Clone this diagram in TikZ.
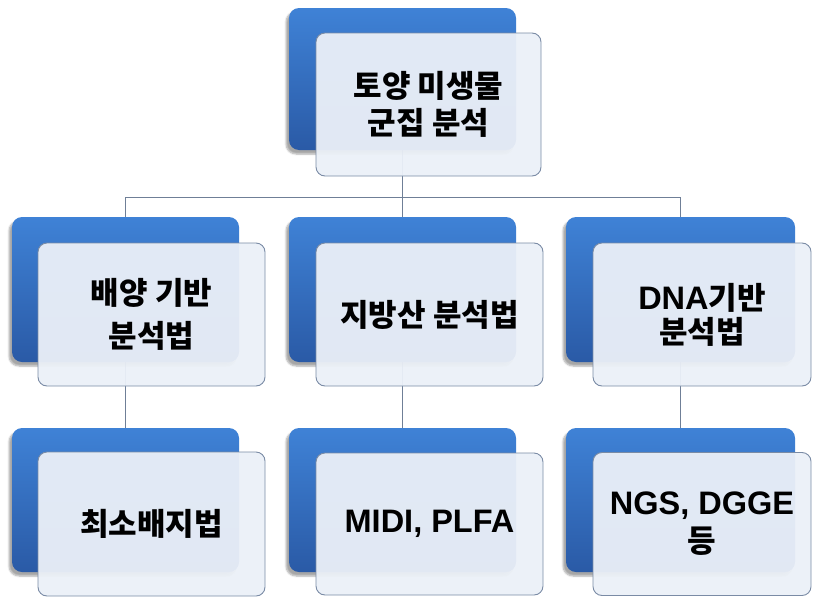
\documentclass[tikz,border=0pt]{standalone}
\usepackage{fontspec}
\newfontfamily\kr{Noto Sans CJK KR Black}
\newfontfamily\latfont{Liberation Sans}[BoldFont={Liberation Sans Bold}]
\newcommand{\lat}[1]{{\latfont\bfseries\fontsize{32.5}{37}\selectfont #1}}
\usetikzlibrary{shadows.blur}
\definecolor{bluetop}{HTML}{3F82D6}
\definecolor{bluebot}{HTML}{2A5AA6}
\definecolor{cardfill}{HTML}{EBF0F8}
\definecolor{cardline}{HTML}{7A8BA5}
\definecolor{connline}{HTML}{6F7F97}
\tikzset{
  backbox/.style={rectangle, rounded corners=10pt, inner sep=0pt,
    top color=bluetop, bottom color=bluebot, draw=none,
    blur shadow={shadow xshift=-3pt, shadow yshift=-4pt, shadow opacity=35, shadow blur steps=6}},
  card/.style={rectangle, rounded corners=9pt, inner sep=0pt,
    fill=cardfill, fill opacity=0.95, draw=cardline, line width=0.9pt,
    text opacity=1, align=center, font=\kr\fontsize{31}{37}\selectfont},
  conn/.style={draw=connline, line width=1pt},
}
\begin{document}
\begin{tikzpicture}[x=1pt, y=-1pt]
\useasboundingbox (0,0) rectangle (813,597);
% placement of the back (blue) panels
\coordinate (p0) at (402.5,79);
\coordinate (p1) at (125.5,289.5);
\coordinate (p2) at (402.5,289.5);
\coordinate (p3) at (680.5,289.5);
\coordinate (p4) at (125.5,500);
\coordinate (p5) at (402.5,500);
\coordinate (p6) at (680.5,500);
\coordinate (bus) at (402.5,197.5);

% connectors (drawn first so the panels sit on top)
\draw[conn] (p0) -- (bus);
\draw[conn] (p1) |- (bus) -| (p3);
\draw[conn] (bus) -- (p2);
\draw[conn] (p1) -- (p4);
\draw[conn] (p2) -- (p5);
\draw[conn] (p3) -- (p6);

% blue back panels
\node[backbox, minimum width=227pt, minimum height=142pt] (b0) at (p0) {};
\node[backbox, minimum width=227pt, minimum height=145pt] (b1) at (p1) {};
\node[backbox, minimum width=227pt, minimum height=145pt] (b2) at (p2) {};
\node[backbox, minimum width=229pt, minimum height=145pt] (b3) at (p3) {};
\node[backbox, minimum width=227pt, minimum height=144pt] (b4) at (p4) {};
\node[backbox, minimum width=227pt, minimum height=144pt] (b5) at (p5) {};
\node[backbox, minimum width=229pt, minimum height=144pt] (b6) at (p6) {};

% light front cards with the labels
\node[card, minimum width=225pt, minimum height=143pt] (f0) at (428.5,104.5) {토양 미생물\\군집 분석};
\node[card, minimum width=227pt, minimum height=143pt, font=\kr\fontsize{31}{43}\selectfont] (f1) at (151.5,314.5) {배양 기반\\분석법};
\node[card, minimum width=227pt, minimum height=143pt] (f2) at (429.5,314.5) {지방산 분석법};
\node[card, minimum width=218pt, minimum height=143pt, font=\kr\fontsize{31}{34}\selectfont] (f3) at (702,314.5) {\lat{DNA}기반\\분석법};
\node[card, minimum width=227pt, minimum height=144pt] (f4) at (151.5,524) {최소배지법};
\node[card, minimum width=227pt, minimum height=142pt] (f5) at (429.5,524) {\lat{MIDI, PLFA}};
\node[card, minimum width=218pt, minimum height=143pt, font=\kr\fontsize{31}{38}\selectfont] (f6) at (702,524) {\lat{NGS, DGGE}\\등};
\end{tikzpicture}
\end{document}
